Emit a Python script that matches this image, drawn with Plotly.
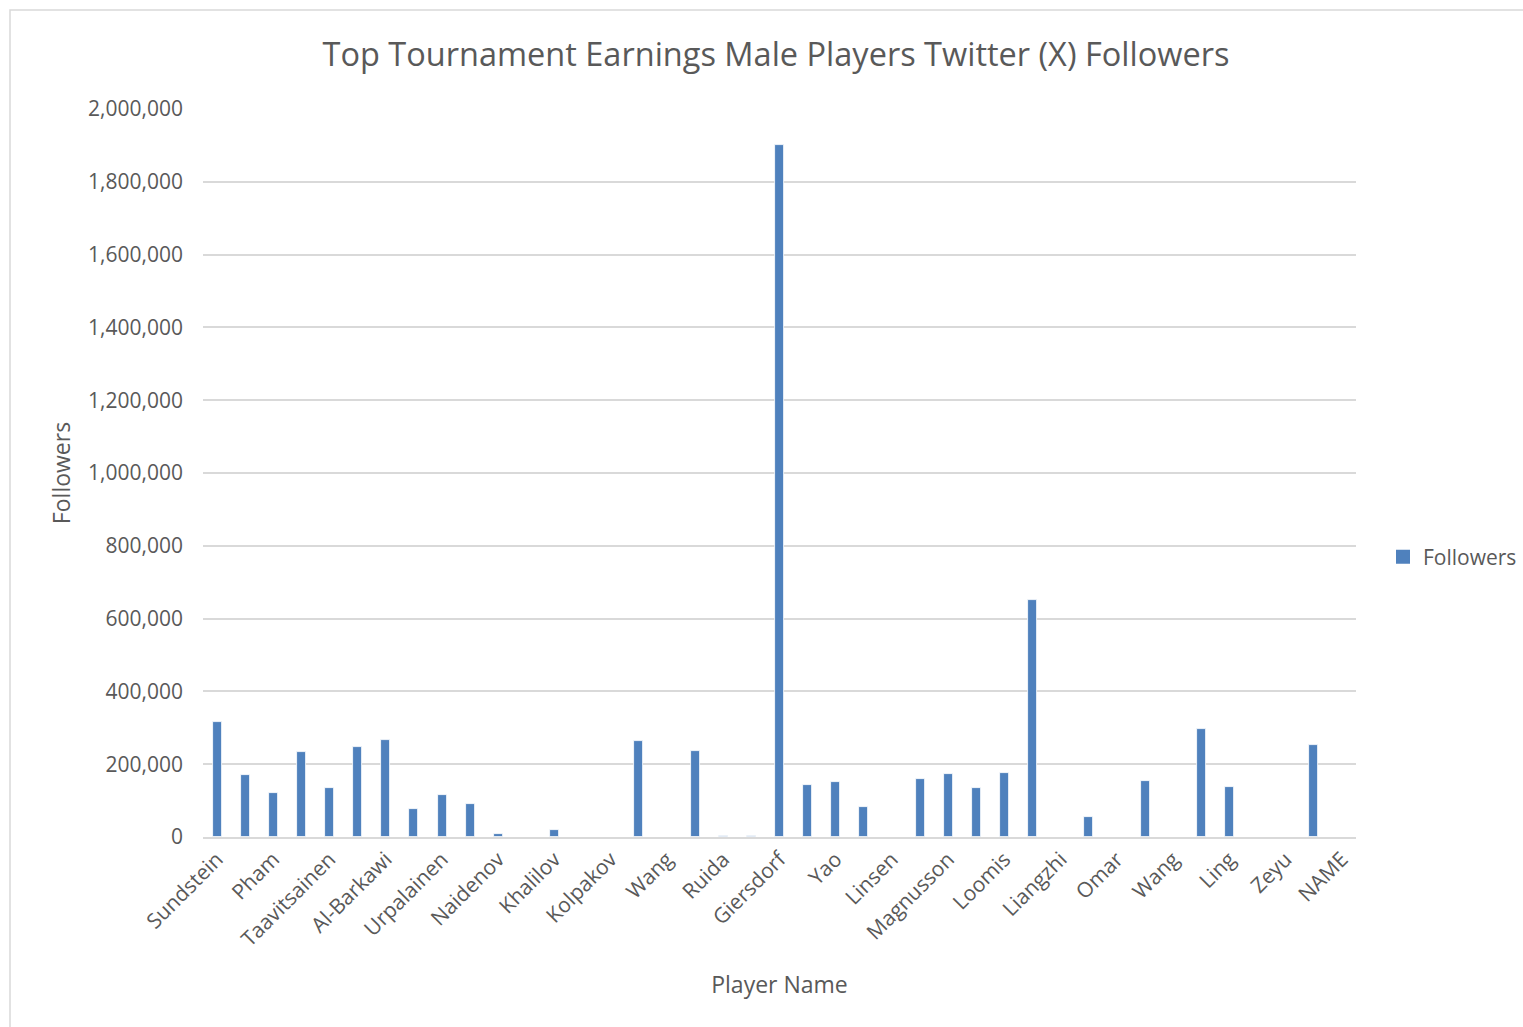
import plotly.graph_objects as go

# Player ranks (1-41) by tournament earnings; only every other rank is labelled
ranks = list(range(1, 42))
label_ranks = list(range(1, 42, 2))
label_names = [
    "Sundstein", "Pham", "Taavitsainen", "Al-Barkawi", "Urpalainen",
    "Naidenov", "Khalilov", "Kolpakov", "Wang", "Ruida", "Giersdorf",
    "Yao", "Linsen", "Magnusson", "Loomis", "Liangzhi", "Omar", "Wang",
    "Ling", "Zeyu", "NAME",
]

# Twitter (X) followers per rank
followers = [
    316000, 170000, 121000, 233000, 135000, 247000, 266000, 77000, 115000, 91000,
    8000, 0, 20000, 0, 0, 264000, 0, 236000, 1500, 1500,
    1900000, 143000, 151000, 82000, 0, 159000, 173000, 135000, 176000, 651000,
    0, 55000, 0, 154000, 0, 297000, 137000, 0, 0, 253000,
    0,
]

y_ticks = list(range(0, 2000001, 200000))

FONT = "Open Sans"
TEXT = "#595959"
GRID = "#d9d9d9"
BLUE = "#4f81bd"
W, H = 1523, 1027

fig = go.Figure()
fig.add_trace(go.Bar(
    x=ranks,
    y=followers,
    name="Followers",
    width=0.32,
    marker=dict(color=BLUE, line=dict(color="#ffffff", width=0.8)),
    showlegend=False,
    legendgroup="f",
))
# legend entry with a larger square swatch
fig.add_trace(go.Scatter(
    x=[None], y=[None],
    mode="markers",
    name="Followers",
    marker=dict(symbol="square", size=14, color=BLUE),
    legendgroup="f",
))

fig.update_layout(
    width=W,
    height=H,
    margin=dict(l=203, r=167, t=109, b=190),
    paper_bgcolor="white",
    plot_bgcolor="white",
    font=dict(family=FONT, color=TEXT, size=21),
    title=dict(
        text="Top Tournament Earnings Male Players Twitter (X) Followers",
        x=776 / W, xref="container", xanchor="center",
        y=1 - 55 / H, yref="container", yanchor="middle",
        font=dict(size=32.5, color=TEXT, family=FONT),
    ),
    xaxis=dict(
        range=[0.5, 41.5],
        tickmode="array",
        tickvals=label_ranks,
        ticktext=label_names,
        tickangle=-45,
        showgrid=False,
        showline=True,
        linecolor=GRID,
        linewidth=1.5,
        ticks="",
        zeroline=False,
        tickfont=dict(size=21, color=TEXT),
        title=dict(text="Player Name", font=dict(size=23, color=TEXT), standoff=26),
    ),
    yaxis=dict(
        range=[0, 2000000],
        tickmode="array",
        tickvals=y_ticks,
        tickformat=",d",
        showgrid=True,
        gridcolor=GRID,
        gridwidth=1.5,
        zeroline=False,
        showline=False,
        ticks="",
        ticklabelstandoff=19,
        tickfont=dict(size=21, color=TEXT),
        title=dict(text="Followers", font=dict(size=23, color=TEXT), standoff=11),
    ),
    legend=dict(
        x=1383 / W, xref="container", xanchor="left",
        y=1 - 557 / H, yref="container", yanchor="middle",
        font=dict(size=21, color=TEXT),
        bgcolor="rgba(0,0,0,0)",
        itemwidth=30,
    ),
    bargap=0.0,
    shapes=[
        # chart-area frame
        dict(
            type="rect", xref="paper", yref="paper",
            x0=(10 - 203) / 1153, x1=1.3,
            y0=-0.4, y1=(837 - 10) / 728,
            line=dict(color=GRID, width=1.5),
            fillcolor="rgba(0,0,0,0)",
            layer="below",
        ),
    ],
)

fig.write_html("out.html")
